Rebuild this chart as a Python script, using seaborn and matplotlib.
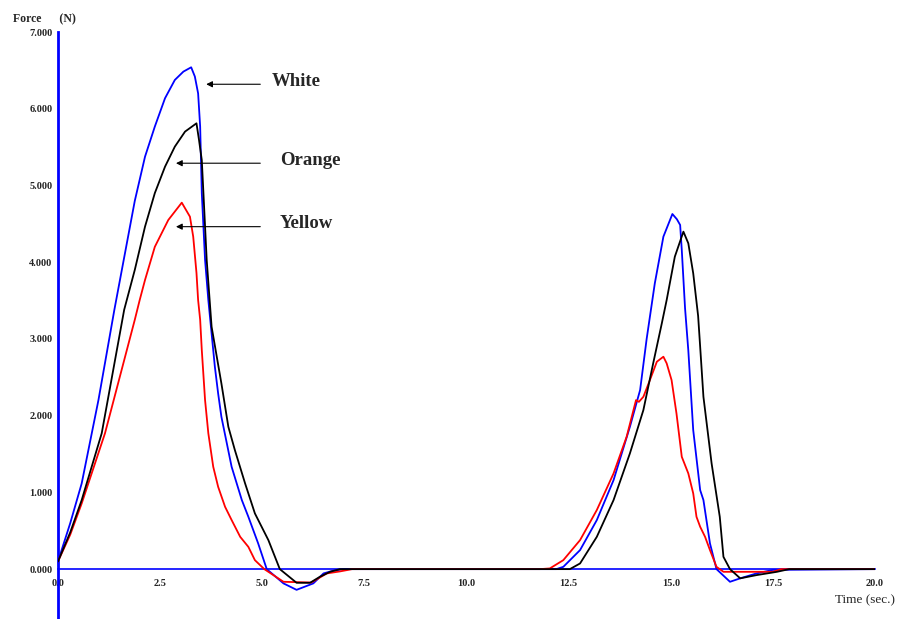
import matplotlib
matplotlib.use("Agg")
import matplotlib.pyplot as plt
import seaborn as sns
import pandas as pd

# ---- data ----
white_t = [0, 0.3, 0.58, 0.99, 1.38, 1.88, 2.13, 2.37, 2.62, 2.86, 3.07, 3.26, 3.35, 3.43,
           3.48, 3.52, 3.60, 3.68, 3.84, 3.92, 4.0, 4.25, 4.5, 4.66, 4.9, 5.11, 5.52, 5.84,
           6.25, 6.5, 6.74, 7.0, 12.2, 12.37, 12.78, 13.19, 13.6, 14.0, 14.25, 14.41, 14.61,
           14.82, 15.04, 15.15, 15.23, 15.27, 15.35, 15.43, 15.55, 15.72, 15.8, 15.96, 16.12,
           16.45, 16.7, 17.1, 17.5, 20.0]
white_f = [100, 600, 1117, 2203, 3380, 4800, 5375, 5767, 6137, 6375, 6484, 6540, 6420, 6200,
           5767, 4900, 4030, 3507, 2637, 2290, 1985, 1334, 900, 682, 335, 0, -186, -270,
           -186, -56, -20, 0, 0, 30, 248, 639, 1160, 1855, 2334, 3000, 3725,
           4333, 4628, 4560, 4485, 4159, 3400, 2850, 1812, 1030, 900, 335, 0,
           -165, -120, -56, -10, 0]

orange_t = [0, 0.3, 0.58, 1.07, 1.62, 1.88, 2.13, 2.37, 2.62, 2.86, 3.11, 3.39, 3.45, 3.52, 3.56,
            3.64, 3.76, 4.0, 4.17, 4.33, 4.58, 4.82, 5.15, 5.43, 5.84, 6.17, 6.41, 6.66, 6.9,
            12.53, 12.78, 13.19, 13.6, 14.0, 14.33, 14.57, 14.78, 14.9, 15.1, 15.31, 15.43,
            15.55, 15.67, 15.72, 15.8, 16.0, 16.2, 16.29, 16.45, 16.7, 17.1, 17.6, 17.9, 20.0]
orange_f = [100, 480, 900, 1770, 3380, 3900, 4463, 4900, 5245, 5506, 5702, 5810, 5600, 5330, 4900,
            4030, 3159, 2420, 1855, 1551, 1117, 726, 378, 0, -178, -178, -100, -35, 0,
            0, 74, 421, 900, 1508, 2073, 2682, 3200, 3507, 4072, 4398, 4246,
            3855, 3300, 2898, 2246, 1378, 682, 160, 0, -120, -78, -35, 0, 0]

yellow_t = [0, 0.3, 0.58, 1.15, 1.88, 2.0, 2.13, 2.37, 2.70, 3.03, 3.23, 3.31, 3.39, 3.43, 3.48,
            3.52, 3.6, 3.68, 3.8, 3.92, 4.09, 4.25, 4.46, 4.66, 4.82, 5.05, 5.52, 6.2, 6.58,
            6.9, 7.2, 11.8, 12.04, 12.37, 12.78, 13.19, 13.6, 13.92, 14.15, 14.22, 14.33,
            14.49, 14.66, 14.75, 14.82, 14.9, 15.02, 15.14, 15.27, 15.43, 15.55, 15.63, 15.72,
            15.84, 15.96, 16.12, 16.29, 16.7, 17.5, 17.7, 20.0]
yellow_f = [100, 450, 856, 1770, 3250, 3507, 3768, 4200, 4550, 4776, 4593, 4333, 3860, 3507, 3250,
            2855, 2203, 1770, 1334, 1073, 812, 640, 421, 290, 117, 0, -165, -175, -56,
            -30, 0, 0, 9, 117, 378, 770, 1247, 1725, 2203, 2180, 2246,
            2464, 2703, 2740, 2768, 2682, 2464, 2030, 1464, 1247, 987, 682, 552,
            421, 248, 30, -35, -35, -35, 0, 0]

series_names = ["White", "Yellow", "Orange"]
series_colors = ["#0000ff", "#ff0000", "#000000"]
x_ticks = [0, 2.5, 5.0, 7.5, 10.0, 12.5, 15.0, 17.5, 20.0]
x_tick_labels = ["0.0", "2.5", "5.0", "7.5", "10.0", "12.5", "15.0", "17.5", "20.0"]
y_ticks = [0, 1000, 2000, 3000, 4000, 5000, 6000, 7000]
y_tick_labels = ["0.000", "1.000", "2.000", "3.000", "4.000", "5.000", "6.000", "7.000"]

df = pd.concat([
    pd.DataFrame({"time": white_t, "force": white_f, "series": "White"}),
    pd.DataFrame({"time": yellow_t, "force": yellow_f, "series": "Yellow"}),
    pd.DataFrame({"time": orange_t, "force": orange_f, "series": "Orange"}),
], ignore_index=True)

sns.set_style("white")
plt.rcParams["font.family"] = ["Liberation Serif", "DejaVu Serif"]

fig = plt.figure(figsize=(9.01, 6.19), dpi=100)
ax = fig.add_axes([58 / 901, 0, 817 / 901, 587 / 619])

sns.lineplot(data=df, x="time", y="force", hue="series", hue_order=series_names,
             palette=dict(zip(series_names, series_colors)), estimator=None, sort=False,
             linewidth=1.3, legend=False, ax=ax, zorder=3)

ax.set_xlim(0, 20)
ax.set_ylim(-650, 7000)
ax.set_xlabel("")
ax.set_ylabel("")

for s in ["top", "right"]:
    ax.spines[s].set_visible(False)
ax.spines["left"].set_color("#0000ff")
ax.spines["left"].set_linewidth(2.0)
ax.spines["bottom"].set_color("#0000ff")
ax.spines["bottom"].set_linewidth(1.2)
ax.spines["bottom"].set_position(("data", 0))

ax.set_xticks(x_ticks)
ax.set_xticklabels(x_tick_labels, fontsize=7.5, fontweight="bold")
ax.set_yticks(y_ticks)
ax.set_yticklabels(y_tick_labels, fontsize=7.5, fontweight="bold")
ax.tick_params(axis="x", direction="out", length=5, width=1.2, color="#0000ff", pad=2)
ax.tick_params(axis="y", direction="out", length=3, width=1.0, color="black", pad=1)

# annotations
arrow_kw = dict(arrowstyle="-|>", color="black", lw=0.8, mutation_scale=9)
ann = [("White", 3.56, 6319, 5.02, 6319, 5.24),
       ("Orange", 2.82, 5290, 5.02, 5290, 5.43),
       ("Yellow", 2.82, 4463, 5.02, 4463, 5.43)]
for label, hx, hy, tx, ty, lx in ann:
    ax.annotate("", xy=(hx, hy), xytext=(tx, ty), arrowprops=arrow_kw)
    ax.text(lx, hy + 40, label, fontsize=13.5, fontweight="bold", ha="left", va="center")

fig.text(13 / 901, 1 - 19 / 619, "Force      (N)", fontsize=8.5, fontweight="bold",
         ha="left", va="center")
fig.text(835 / 901, 1 - 600 / 619, "Time (sec.)", fontsize=9.5, ha="left", va="center")

fig.savefig("out.png", dpi=100, facecolor="white")
